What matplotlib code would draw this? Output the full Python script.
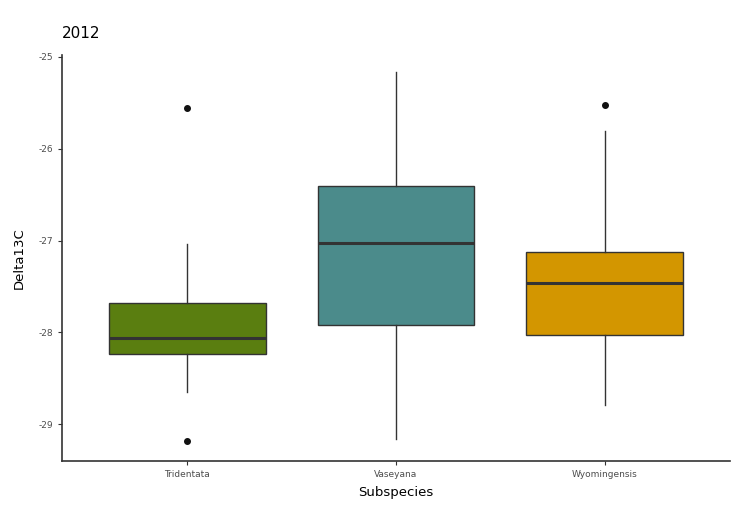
import matplotlib
matplotlib.use("Agg")
import matplotlib.pyplot as plt

categories = ["Tridentata", "Vaseyana", "Wyomingensis"]
q1 = [-28.24, -27.92, -28.03]
median = [-28.06, -27.03, -27.46]
q3 = [-27.68, -26.41, -27.13]
whisker_low = [-28.65, -29.16, -28.79]
whisker_high = [-27.04, -25.16, -25.81]
outliers = [[-25.56, -29.18], [], [-25.52]]
colors = ["#5a7e10", "#4b8b8b", "#d39600"]
yticks = [-25, -26, -27, -28, -29]

stats = []
for i, c in enumerate(categories):
    stats.append(dict(label=c, q1=q1[i], med=median[i], q3=q3[i],
                      whislo=whisker_low[i], whishi=whisker_high[i], fliers=outliers[i]))

fig = plt.figure(figsize=(7.34, 5.09), dpi=100)
ax = fig.add_axes([62/734, 1-461/509, (730-62)/734, (461-55)/509])
bp = ax.bxp(stats, positions=[1, 2, 3], widths=0.75, patch_artist=True, showcaps=False,
            boxprops=dict(edgecolor="#333333", linewidth=1.0),
            medianprops=dict(color="#333333", linewidth=2.2),
            whiskerprops=dict(color="#333333", linewidth=1.0),
            flierprops=dict(marker="o", markersize=4, markerfacecolor="#111111",
                            markeredgecolor="#111111"))
for patch, col in zip(bp["boxes"], colors):
    patch.set_facecolor(col)

ax.set_xlim(0.4, 3.6)
ax.set_ylim(-29.40, -24.98)
ax.set_yticks(yticks)
ax.set_yticklabels([str(t) for t in yticks])
ax.spines["top"].set_visible(False)
ax.spines["right"].set_visible(False)
for s in ["left", "bottom"]:
    ax.spines[s].set_linewidth(1.2)
    ax.spines[s].set_color("#333333")
ax.tick_params(axis="both", labelsize=6.5, colors="#333333", labelcolor="#4d4d4d", length=3, width=0.8)
ax.set_xlabel("Subspecies", fontsize=9.5, labelpad=5)
ax.set_ylabel("Delta13C", fontsize=9.5, labelpad=9)
fig.text(62/734, 1-34/509, "2012", fontsize=11, ha="left", va="center")
fig.savefig("out.png", dpi=100)
